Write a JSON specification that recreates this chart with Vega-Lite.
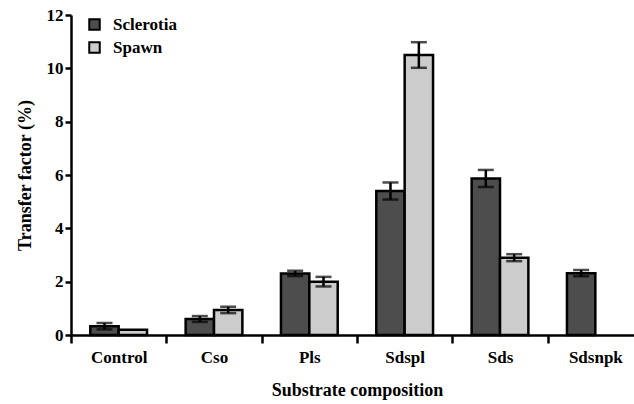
{
  "$schema": "https://vega.github.io/schema/vega-lite/v6.json",
  "width": 563,
  "height": 320,
  "autosize": "none",
  "padding": {"left": 71, "top": 15, "right": 0, "bottom": 69},
  "background": "white",
  "config": {
    "view": {"stroke": null},
    "font": "Liberation Serif",
    "legend": {"labelFont": "Liberation Serif"},
    "axis": {"labelFont": "Liberation Serif", "titleFont": "Liberation Serif", "labelFontWeight": "bold", "titleFontWeight": "bold", "labelFontSize": 17, "titleFontSize": 18, "labelColor": "black", "titleColor": "black", "domainColor": "black", "tickColor": "black", "domainWidth": 2.5, "tickWidth": 2.5, "grid": false}
  },
  "data": {"values": [
    {"sub": "Control", "type": "Sclerotia", "v": 0.33, "e": 0.12},
    {"sub": "Control", "type": "Spawn", "v": 0.2, "e": 0.0},
    {"sub": "Cso", "type": "Sclerotia", "v": 0.6, "e": 0.11},
    {"sub": "Cso", "type": "Spawn", "v": 0.94, "e": 0.12},
    {"sub": "Pls", "type": "Sclerotia", "v": 2.31, "e": 0.1},
    {"sub": "Pls", "type": "Spawn", "v": 2.0, "e": 0.18},
    {"sub": "Sdspl", "type": "Sclerotia", "v": 5.4, "e": 0.32},
    {"sub": "Sdspl", "type": "Spawn", "v": 10.5, "e": 0.48},
    {"sub": "Sds", "type": "Sclerotia", "v": 5.87, "e": 0.32},
    {"sub": "Sds", "type": "Spawn", "v": 2.9, "e": 0.13},
    {"sub": "Sdsnpk", "type": "Sclerotia", "v": 2.32, "e": 0.12}
  ]},
  "transform": [
    {"calculate": "datum.v + datum.e", "as": "hi"},
    {"calculate": "datum.v - datum.e", "as": "lo"}
  ],
  "encoding": {
    "x": {"field": "sub", "type": "nominal", "sort": null,
      "scale": {"range": [0, 572], "paddingInner": 0, "paddingOuter": 0},
      "axis": {"title": "Substrate composition", "labelAngle": 0, "tickBand": "extent", "tickSize": 8, "labelPadding": 6, "titlePadding": 16}},
    "xOffset": {"field": "type", "type": "nominal", "scale": {"paddingInner": 0, "paddingOuter": 0.68}}
  },
  "layer": [
    {
      "mark": {"type": "bar", "stroke": "black", "strokeWidth": 2.5},
      "encoding": {
        "y": {"field": "v", "type": "quantitative", "scale": {"domain": [0, 12], "nice": false},
          "axis": {"title": "Transfer factor (%)", "values": [0, 2, 4, 6, 8, 10, 12], "tickSize": 6, "labelPadding": 2, "titlePadding": 12}},
        "fill": {"field": "type", "type": "nominal", "scale": {"domain": ["Sclerotia", "Spawn"], "range": ["#4d4d4d", "#cccccc"]},
          "legend": {"title": null, "orient": "none", "legendX": 15, "legendY": 1, "symbolType": "square", "symbolSize": 110, "symbolStrokeColor": "black", "symbolStrokeWidth": 2, "labelFontSize": 17, "labelFont": "Liberation Serif", "labelFontWeight": "bold", "labelColor": "black", "rowPadding": 4, "labelOffset": 10}}
      }
    },
    {
      "transform": [{"filter": "datum.e > 0"}],
      "mark": {"type": "rule", "color": "black", "strokeWidth": 2.5},
      "encoding": {"y": {"field": "lo", "type": "quantitative"}, "y2": {"field": "hi"}}
    },
    {
      "transform": [{"filter": "datum.e > 0"}],
      "mark": {"type": "tick", "color": "black", "thickness": 2.5, "size": 16},
      "encoding": {"y": {"field": "hi", "type": "quantitative"}}
    },
    {
      "transform": [{"filter": "datum.e > 0"}],
      "mark": {"type": "tick", "color": "black", "thickness": 2.5, "size": 16},
      "encoding": {"y": {"field": "lo", "type": "quantitative"}}
    }
  ]
}
